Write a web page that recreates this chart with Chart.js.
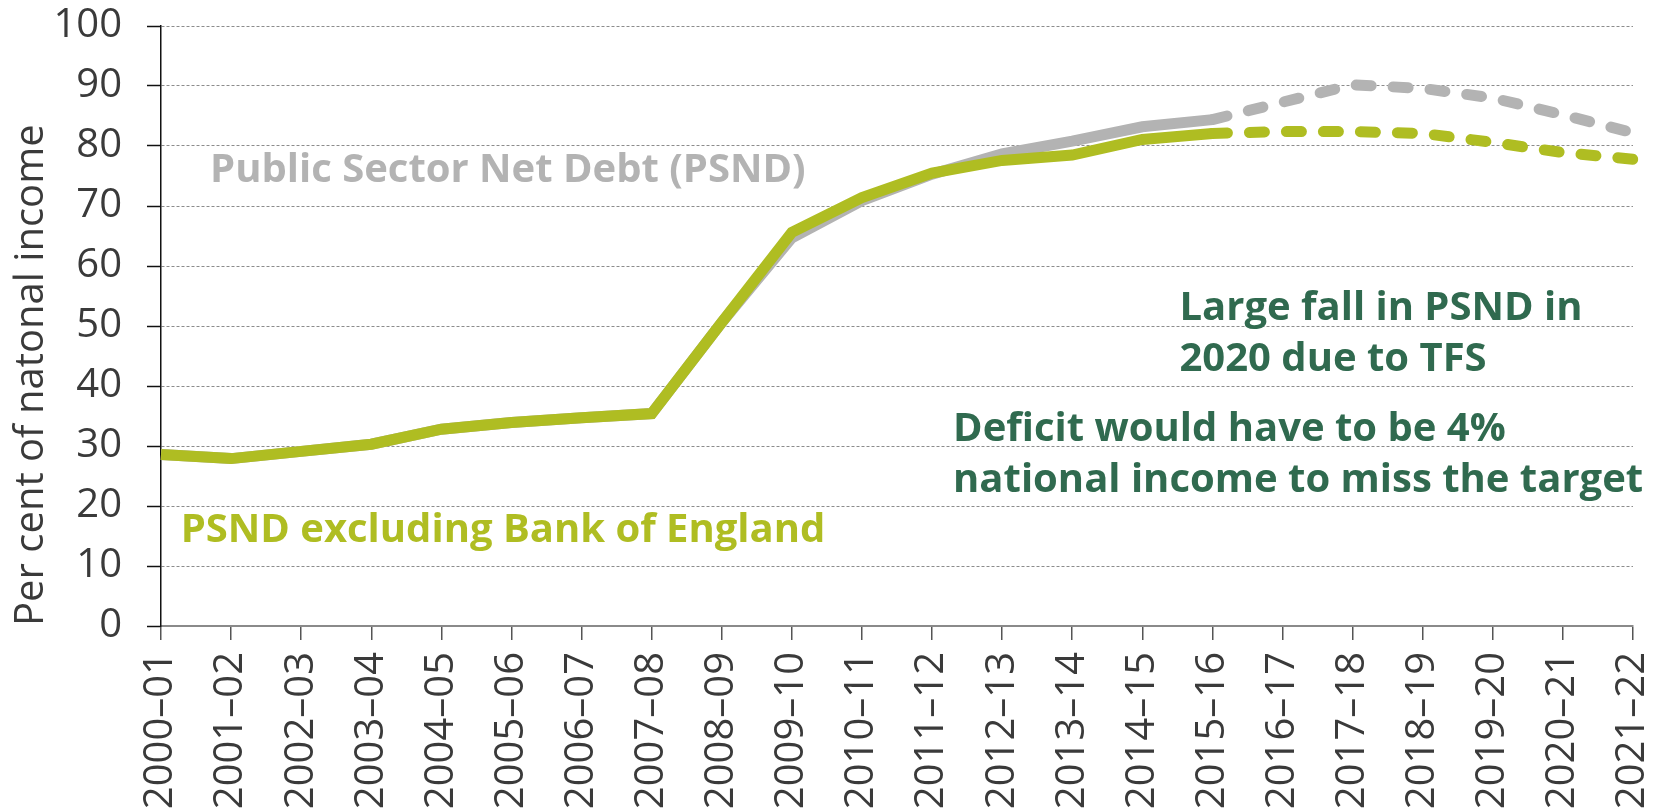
<!DOCTYPE html>
<html>
<head>
<meta charset="utf-8">
<script src="https://cdn.jsdelivr.net/npm/chart.js@4/dist/chart.umd.min.js"></script>
<style>
  html, body { margin: 0; padding: 0; background: #ffffff; }
  #wrap { width: 1665px; height: 810px; position: relative; }
</style>
</head>
<body>
<div id="wrap"><canvas id="debtChart"></canvas></div>
<script>
const years = [
    '2000–01', '2001–02', '2002–03', '2003–04', '2004–05', '2005–06',
    '2006–07', '2007–08', '2008–09', '2009–10', '2010–11', '2011–12',
    '2012–13', '2013–14', '2014–15', '2015–16', '2016–17', '2017–18',
    '2018–19', '2019–20', '2020–21', '2021–22'
];

// Public sector net debt, per cent of national income
const psnd = [
    28.6, 27.9, 29.1, 30.3, 32.8, 33.9, 34.7, 35.4, 50.6, 64.7, 70.9,
    75.3, 78.7, 80.8, 83.2, 84.4, 87.3, 90.2, 89.6, 88.0, 85.2, 82.2
];

// PSND excluding Bank of England
const psndExBoE = [
    28.6, 27.9, 29.1, 30.3, 32.8, 33.9, 34.7, 35.4, 50.6, 65.6, 71.4,
    75.5, 77.6, 78.5, 81.1, 82.1, 82.4, 82.4, 82.1, 80.6, 78.9, 77.8
];

const yTicks = [0, 10, 20, 30, 40, 50, 60, 70, 80, 90, 100];

// first year of the forecast period (drawn dashed from here on)
const forecastFrom = 15;

const colors = {
    grey: '#b3b3b3',
    lime: '#afbd22',
    forest: '#306a4f',
    text: '#3a3a3a'
};

const notes = [
    { lines: ['Public Sector Net Debt (PSND)'], color: colors.grey, at: [0.7, 74.0] },
    { lines: ['PSND excluding Bank of England'], color: colors.lime, at: [0.28, 14.0] },
    { lines: ['Large fall in PSND in', '2020 due to TFS'], color: colors.forest, at: [14.53, 51.0] },
    { lines: ['Deficit would have to be 4%', 'national income to miss the target'], color: colors.forest, at: [11.3, 30.8] }
];

Chart.defaults.font.family = "'Open Sans', sans-serif";

const forecastSegment = {
    borderDash: ctx => ctx.p0DataIndex >= forecastFrom ? [15, 22] : [],
    borderCapStyle: ctx => ctx.p0DataIndex >= forecastFrom ? 'round' : 'butt'
};

const notesPlugin = {
    id: 'notes',
    afterDatasetsDraw(chart) {
        const { ctx, scales: { x, y } } = chart;
        ctx.save();
        ctx.font = "bold 40px 'Open Sans', sans-serif";
        ctx.textAlign = 'left';
        ctx.textBaseline = 'alphabetic';
        notes.forEach(note => {
            const px = x.getPixelForValue(note.at[0]);
            const py = y.getPixelForValue(note.at[1]);
            ctx.fillStyle = note.color;
            note.lines.forEach((line, i) => ctx.fillText(line, px, py + i * 51));
        });
        ctx.restore();
    }
};

new Chart(document.getElementById('debtChart'), {
    type: 'line',
    data: {
        labels: years,
        datasets: [
            {
                label: 'PSND excluding Bank of England',
                data: psndExBoE,
                borderColor: colors.lime,
                borderWidth: 11,
                segment: forecastSegment
            },
            {
                label: 'Public Sector Net Debt (PSND)',
                data: psnd,
                borderColor: colors.grey,
                borderWidth: 11,
                segment: forecastSegment
            }
        ]
    },
    options: {
        responsive: true,
        maintainAspectRatio: false,
        animation: false,
        layout: { padding: { top: 26, right: 32, left: 0, bottom: 0 } },
        elements: {
            point: { radius: 0, hoverRadius: 0 },
            line: { tension: 0, borderJoinStyle: 'miter' }
        },
        plugins: {
            legend: { display: false },
            tooltip: { enabled: false }
        },
        scales: {
            x: {
                type: 'category',
                offset: false,
                afterFit: s => {
                    s.height = 184;
                    s.paddingLeft = 0;
                    s.paddingRight = 0;
                },
                grid: {
                    drawOnChartArea: false,
                    tickLength: 14,
                    tickColor: '#555555',
                    lineWidth: 1.5
                },
                border: { color: '#8a8a8a', width: 2 },
                ticks: {
                    autoSkip: false,
                    minRotation: 90,
                    maxRotation: 90,
                    padding: 12,
                    color: colors.text,
                    font: { size: 40 }
                }
            },
            y: {
                min: 0,
                max: 100,
                afterFit: s => {
                    s.width = 161;
                    s.paddingTop = 0;
                    s.paddingBottom = 0;
                },
                afterBuildTicks: s => { s.ticks = yTicks.map(v => ({ value: v })); },
                grid: {
                    color: ctx => ctx.tick && ctx.tick.value === 0 ? 'rgba(0,0,0,0)' : '#8c8c8c',
                    lineWidth: 1,
                    tickLength: 14,
                    tickColor: '#111111',
                    tickWidth: 1.5,
                    tickBorderDash: []
                },
                border: { color: '#111111', width: 1.5, dash: [3, 2] },
                ticks: {
                    padding: 25,
                    color: colors.text,
                    font: { size: 40 }
                },
                title: {
                    display: true,
                    text: 'Per cent of natonal income',
                    align: 'start',
                    color: colors.text,
                    font: { size: 40 },
                    padding: { top: 8, bottom: 0 }
                }
            }
        }
    },
    plugins: [notesPlugin]
});
</script>
</body>
</html>
